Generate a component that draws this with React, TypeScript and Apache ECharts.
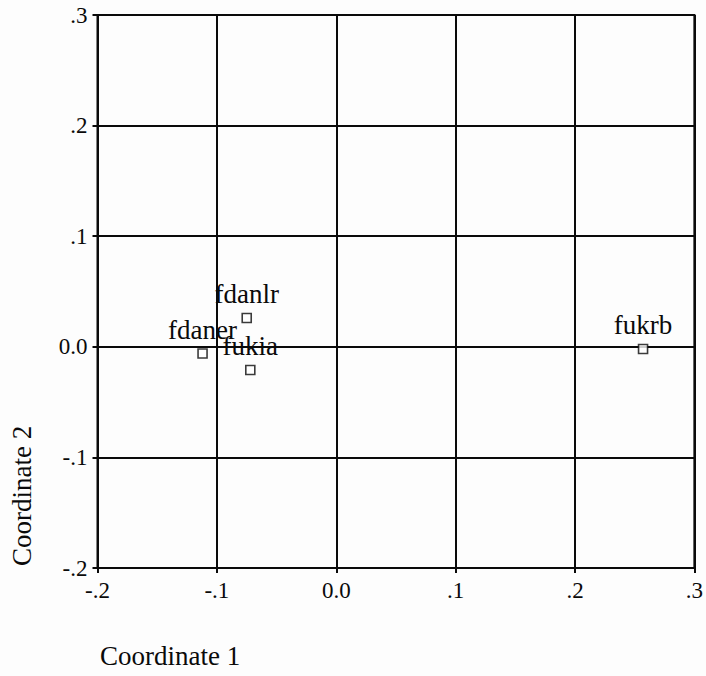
import React, { useEffect, useRef } from "react";
import * as echarts from "echarts";

// Point names and their coordinates in the two-dimensional solution
const pointNames = ["fdanlr", "fdaner", "fukia", "fukrb"];
const coord1 = [-0.075, -0.112, -0.072, 0.257];
const coord2 = [0.026, -0.006, -0.021, -0.002];

// Axis ranges and tick labels
const xTicks = [-0.2, -0.1, 0.0, 0.1, 0.2, 0.3];
const xTickLabels = ["-.2", "-.1", "0.0", ".1", ".2", ".3"];
const yTicks = [-0.2, -0.1, 0.0, 0.1, 0.2, 0.3];
const yTickLabels = ["-.2", "-.1", "0.0", ".1", ".2", ".3"];

const xName = "Coordinate 1";
const yName = "Coordinate 2";

const FONT = '"Liberation Serif", "Times New Roman", serif';
const INK = "#0a0a0a";

function tickLabel(ticks: number[], labels: string[]) {
  return (v: number) => {
    const i = ticks.findIndex((t) => Math.abs(t - v) < 1e-9);
    return i >= 0 ? labels[i] : "";
  };
}

export default function App() {
  const ref = useRef<HTMLDivElement>(null);

  useEffect(() => {
    if (!ref.current) return;
    const chart = echarts.init(ref.current, null, { renderer: "svg" });

    const lineStyle = { color: INK, width: 2 };

    chart.setOption({
      animation: false,
      backgroundColor: "#fdfdfd",
      grid: {
        left: 97.5,
        top: 15,
        right: 8,
        bottom: 108,
        show: true,
        borderColor: INK,
        borderWidth: 2,
        backgroundColor: "transparent",
      },
      xAxis: {
        type: "value",
        min: xTicks[0],
        max: xTicks[xTicks.length - 1],
        interval: 0.1,
        axisLine: { show: true, onZero: false, lineStyle },
        axisTick: { show: true, length: 5, inside: false, lineStyle },
        splitLine: { show: true, lineStyle },
        axisLabel: {
          formatter: tickLabel(xTicks, xTickLabels),
          color: INK,
          fontFamily: FONT,
          fontSize: 23,
          margin: 11,
        },
      },
      yAxis: {
        type: "value",
        min: yTicks[0],
        max: yTicks[yTicks.length - 1],
        interval: 0.1,
        axisLine: { show: true, onZero: false, lineStyle },
        axisTick: { show: true, length: 5, inside: false, lineStyle },
        splitLine: { show: true, lineStyle },
        axisLabel: {
          formatter: tickLabel(yTicks, yTickLabels),
          color: INK,
          fontFamily: FONT,
          fontSize: 23,
          margin: 10,
        },
      },
      graphic: [
        {
          type: "text",
          x: 100,
          y: 656,
          style: {
            text: xName,
            fill: INK,
            font: `27px ${FONT}`,
            align: "left",
            verticalAlign: "middle",
          },
        },
        {
          type: "text",
          x: 22,
          y: 566,
          rotation: Math.PI / 2,
          style: {
            text: yName,
            fill: INK,
            font: `27px ${FONT}`,
            align: "left",
            verticalAlign: "middle",
          },
        },
      ],
      series: [
        {
          type: "scatter",
          symbol: "rect",
          symbolSize: 9,
          data: pointNames.map((n, i) => ({ name: n, value: [coord1[i], coord2[i]] })),
          itemStyle: { color: "#ffffff", borderColor: INK, borderWidth: 1.6 },
          label: {
            show: true,
            position: "top",
            distance: 5,
            formatter: (p: any) => p.name,
            color: INK,
            opacity: 1,
            textBorderWidth: 0,
            textBorderColor: "transparent",
            fontFamily: FONT,
            fontSize: 27,
          },
          emphasis: { disabled: true },
        },
      ],
    });

    return () => chart.dispose();
  }, []);

  return (
    <div
      ref={ref}
      style={{ position: "fixed", left: 0, top: 0, width: 706, height: 676 }}
    />
  );
}
